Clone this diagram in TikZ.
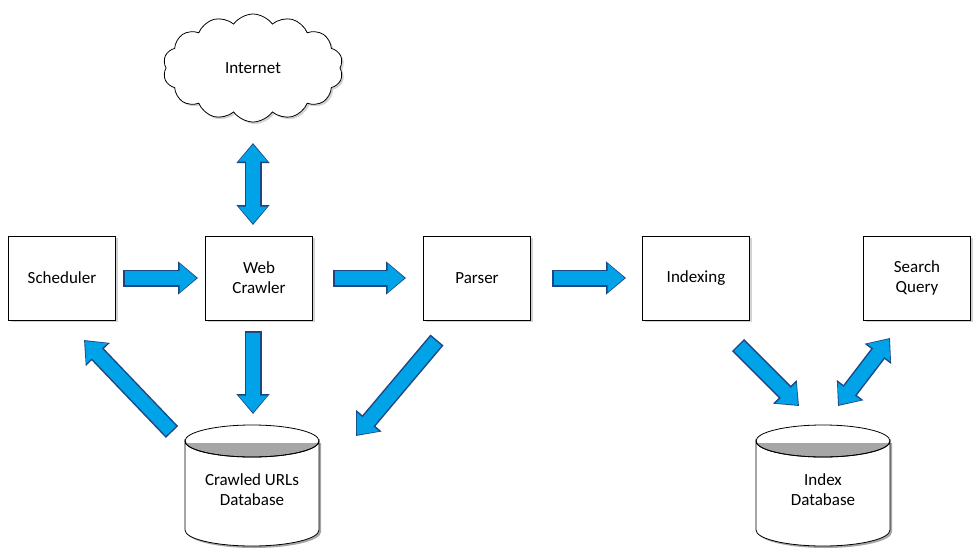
\documentclass[tikz,border=0pt]{standalone}
\usepackage{fontspec}
\setmainfont{Carlito}
\usetikzlibrary{shapes.geometric,shapes.symbols,arrows.meta,shadows}
\definecolor{ab}{RGB}{0,162,232}
\definecolor{abd}{RGB}{30,70,130}
\begin{document}
\begin{tikzpicture}[x=1pt,y=-1pt,
  box/.style={draw,thick,fill=white,minimum width=107pt,minimum height=84pt,align=center,font=\fontsize{17}{20}\selectfont,drop shadow={opacity=0.35,shadow xshift=2pt,shadow yshift=-2pt}},
  dbt/.style={font=\fontsize{17}{20}\selectfont,align=center},
  ba/.style={draw=abd,line width=17pt,-{Triangle[length=20pt,width=32pt]}},
  bi/.style={draw=ab,line width=14pt,-{Triangle[length=17pt,width=28pt]}},
  bba/.style={draw=abd,line width=17pt,{Triangle[length=20pt,width=32pt]}-{Triangle[length=20pt,width=32pt]}},
  bbi/.style={draw=ab,line width=14pt,{Triangle[length=17pt,width=28pt]}-{Triangle[length=17pt,width=28pt]}}]
\useasboundingbox (0,0) rectangle (980,557);
\node[cloud,draw,thick,fill=white,cloud puffs=14,cloud puff arc=110,aspect=1.7,minimum width=180pt,minimum height=108pt,font=\fontsize{17}{20}\selectfont,drop shadow={opacity=0.35,shadow xshift=2pt,shadow yshift=-2pt}] (net) at (253,68) {Internet};
\node[box] (sch) at (62,278) {Scheduler};
\node[box] (wc) at (259,278) {Web\\Crawler};
\node[box] (par) at (477,278) {Parser};
\node[box] (idx) at (696,278) {Indexing};
\node[box] (sq) at (917,278) {Search\\Query};
\foreach \cx in {252,823}{
  \fill[black!35] (\cx-65,443) -- (\cx-65,532) arc[start angle=180,end angle=0,x radius=67,y radius=16] -- (\cx+69,443) -- cycle;
  \filldraw[thick,fill=white] (\cx-67,441) -- (\cx-67,530) arc[start angle=180,end angle=0,x radius=67,y radius=16] -- (\cx+67,441) arc[start angle=0,end angle=180,x radius=67,y radius=16] -- cycle;
  \draw[thick] (\cx,441) ellipse[x radius=67,y radius=16];
}
\node[dbt] (cdb) at (252,490) {Crawled URLs\\Database};
\node[dbt] (idb) at (823,490) {Index\\Database};
\coordinate (a1) at (123,278); \coordinate (b1) at (198,278);
\coordinate (a2) at (333,278); \coordinate (b2) at (406,278);
\coordinate (a3) at (552,278); \coordinate (b3) at (626,278);
\coordinate (a4) at (253,143); \coordinate (b4) at (253,225);
\coordinate (a5) at (253,331); \coordinate (b5) at (253,414);
\coordinate (a6) at (172,432); \coordinate (b6) at (84,340);
\coordinate (a7) at (437,340); \coordinate (b7) at (356,436);
\coordinate (a8) at (738,345); \coordinate (b8) at (799,406);
\coordinate (a9) at (838,406); \coordinate (b9) at (890,338);
\foreach \i in {1,2,3,5,6,7,8}{\draw[ba] (a\i) -- (b\i); \draw[bi,shorten <=1.5pt,shorten >=1.5pt] (a\i) -- (b\i);}
\foreach \i in {4,9}{\draw[bba] (a\i) -- (b\i); \draw[bbi,shorten <=1.5pt,shorten >=1.5pt] (a\i) -- (b\i);}
\end{tikzpicture}
\end{document}
